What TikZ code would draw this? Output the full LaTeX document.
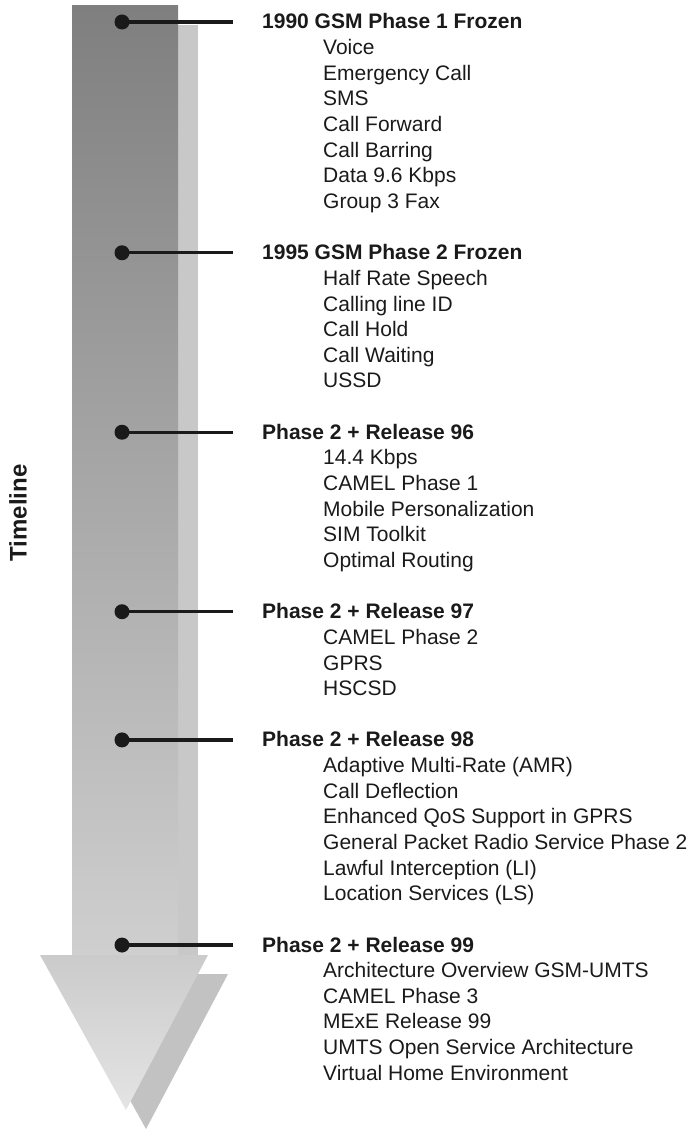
\documentclass[tikz,border=0pt]{standalone}
\usepackage{fontspec}
\setmainfont{Liberation Sans}
\definecolor{shaftTop}{HTML}{7F7F7F}
\definecolor{shaftBot}{HTML}{CFCFCF}
\definecolor{headTop}{HTML}{CBCBCB}
\definecolor{headBot}{HTML}{E4E4E4}
\definecolor{shadowCol}{HTML}{C8C8C8}
\definecolor{shadowHead}{HTML}{C2C2C2}
\definecolor{ink}{HTML}{1A1A1A}
\newcommand\gsmblock[4]{%
  \pgfmathsetmacro\yy{22+#2*25.64}%
  \node[dotnode] (d#1) at (122,\yy) {};
  \coordinate (e#1) at (233,\yy);
  \draw[conn] (d#1.center) -- (e#1);
  \node[titlenode] (t#1) at (262,{\yy+7}) {#3};
  \foreach \itm [count=\k] in {#4} {
    \node[itemnode] (i#1-\k) at (323,{\yy+7+\k*25.64}) {\itm};
  }%
}
\begin{document}
\begin{tikzpicture}[x=1pt,y=-1pt,
  dotnode/.style={circle, fill=ink, inner sep=0, minimum size=15pt},
  conn/.style={draw=ink, line width=3.3pt},
  titlenode/.style={anchor=base west, inner sep=0, text=ink, font=\bfseries\fontsize{21}{25}\selectfont},
  itemnode/.style={anchor=base west, inner sep=0, text=ink, font=\fontsize{21}{25}\selectfont}]
\useasboundingbox (0,0) rectangle (695,1134);
% shadow
\fill[shadowCol] (92,25) rectangle (198,974);
\fill[shadowHead] (60,974) -- (228,974) -- (146,1129) -- cycle;
% main arrow
\shade[top color=shaftTop, bottom color=shaftBot] (72,6) rectangle (178,955);
\shade[top color=headTop, bottom color=headBot] (40,955) -- (208,955) -- (126,1110) -- cycle;
% label
\node[rotate=90, inner sep=0, text=ink, font=\bfseries\fontsize{24}{28}\selectfont] (tl) at (18,513) {Timeline};
% blocks
\gsmblock{1}{0}{1990 GSM Phase 1 Frozen}{Voice,Emergency Call,SMS,Call Forward,Call Barring,Data 9.6 Kbps,Group 3 Fax}
\gsmblock{2}{9}{1995 GSM Phase 2 Frozen}{Half Rate Speech,Calling line ID,Call Hold,Call Waiting,USSD}
\gsmblock{3}{16}{Phase 2 + Release 96}{14.4 Kbps,CAMEL Phase 1,Mobile Personalization,SIM Toolkit,Optimal Routing}
\gsmblock{4}{23}{Phase 2 + Release 97}{CAMEL Phase 2,GPRS,HSCSD}
\gsmblock{5}{28}{Phase 2 + Release 98}{Adaptive Multi-Rate (AMR),Call Deflection,Enhanced QoS Support in GPRS,General Packet Radio Service Phase 2,Lawful Interception (LI),Location Services (LS)}
\gsmblock{6}{36}{Phase 2 + Release 99}{Architecture Overview GSM-UMTS,CAMEL Phase 3,MExE Release 99,UMTS Open Service Architecture,Virtual Home Environment}
\end{tikzpicture}
\end{document}
